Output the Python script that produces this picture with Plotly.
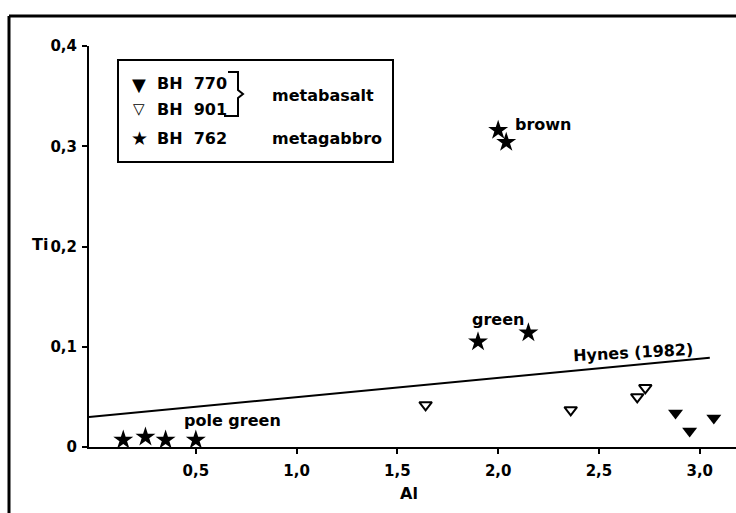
import plotly.graph_objects as go

# ---- data ----
bh770_al = [2.88, 2.95, 3.07]
bh770_ti = [0.034, 0.016, 0.029]
bh901_al = [1.64, 2.36, 2.69, 2.73]
bh901_ti = [0.042, 0.037, 0.050, 0.059]
bh762_al = [0.14, 0.25, 0.35, 0.50, 1.90, 2.15, 2.00, 2.04]
bh762_ti = [0.007, 0.010, 0.007, 0.007, 0.105, 0.114, 0.316, 0.304]
hynes_al = [-0.03, 3.05]
hynes_ti = [0.030, 0.089]
x_ticks = [0.5, 1.0, 1.5, 2.0, 2.5, 3.0]
x_ticklabels = ["0,5", "1,0", "1,5", "2,0", "2,5", "3,0"]
y_ticks = [0, 0.1, 0.2, 0.3, 0.4]
y_ticklabels = ["0", "0,1", "0,2", "0,3", "0,4"]

W, H = 736, 513
L, R, T, B = 89, 0, 46, 66
FONT = "DejaVu Sans"
WEIGHT = "bold"


def px(x):
    return (x - L) / (W - L - R)


def py(y):
    return (H - B - y) / (H - T - B)


fig = go.Figure()
fig.add_trace(go.Scatter(x=hynes_al, y=hynes_ti, mode="lines",
                         line=dict(color="black", width=2), showlegend=False,
                         cliponaxis=False))
fig.add_trace(go.Scatter(x=bh770_al, y=bh770_ti, mode="markers",
                         marker=dict(symbol="triangle-down", size=13, color="black"),
                         showlegend=False, cliponaxis=False))
fig.add_trace(go.Scatter(x=bh901_al, y=bh901_ti, mode="markers",
                         marker=dict(symbol="triangle-down-open", size=11, color="black",
                                     line=dict(width=2, color="black")),
                         showlegend=False, cliponaxis=False))
fig.add_trace(go.Scatter(x=bh762_al, y=bh762_ti, mode="markers",
                         marker=dict(symbol="star", size=15, color="black"),
                         showlegend=False, cliponaxis=False))

ann = []


def text(x, y, s, size=16, xanchor="center", angle=0):
    ann.append(dict(x=px(x), y=py(y), xref="paper", yref="paper", text=s,
                    showarrow=False, xanchor=xanchor, yanchor="middle",
                    textangle=angle,
                    font=dict(family=FONT, size=size, color="black", weight=WEIGHT)))


text(543, 124, "brown")
text(498, 319, "green")
text(633, 352, "Hynes (1982)", angle=-3)
text(232, 420, "pole green")
text(40, 244, "Ti")
text(409, 493, "Al")

# legend
text(139, 84, "▼", size=18)
text(139, 109, "▽", size=15)
text(139, 138, "★", size=19)
text(155, 83, "BH  770", size=16, xanchor="left")
text(155, 109, "BH  901", size=16, xanchor="left")
text(155, 138, "BH  762", size=16, xanchor="left")
text(270, 95, "metabasalt", size=16, xanchor="left")
text(270, 138, "metagabbro", size=16, xanchor="left")

shapes = [
    dict(type="rect", xref="paper", yref="paper", x0=px(118), y0=py(60),
         x1=px(393), y1=py(162), line=dict(color="black", width=2)),
    dict(type="path", xref="paper", yref="paper",
         path=(f"M {px(228)},{py(72)} L {px(238)},{py(72)} L {px(238)},{py(90)} "
               f"L {px(243)},{py(94)} L {px(238)},{py(98)} L {px(238)},{py(116)} "
               f"L {px(224)},{py(116)}"),
         line=dict(color="black", width=2)),
    dict(type="line", xref="paper", yref="paper", x0=px(9), y0=py(16),
         x1=px(9), y1=py(520), line=dict(color="black", width=3)),
    dict(type="line", xref="paper", yref="paper", x0=px(9), y0=py(16),
         x1=px(740), y1=py(16), line=dict(color="black", width=3)),
]

axis_common = dict(showline=True, linecolor="black", linewidth=2, ticks="outside",
                   ticklen=5, tickwidth=1.5, tickcolor="black", showgrid=False,
                   zeroline=False,
                   tickfont=dict(family=FONT, size=15, color="black", weight=WEIGHT))

fig.update_layout(
    width=W, height=H, autosize=False,
    margin=dict(l=L, r=R, t=T, b=B, pad=0),
    paper_bgcolor="white", plot_bgcolor="white",
    xaxis=dict(range=[-0.03, 3.18], tickvals=x_ticks, ticktext=x_ticklabels,
               ticklabelstandoff=4, **axis_common),
    yaxis=dict(range=[0, 0.4], tickvals=y_ticks, ticktext=y_ticklabels,
               ticklabelstandoff=2, **axis_common),
    annotations=ann, shapes=shapes, showlegend=False,
)

fig.write_html("out.html", config={"displayModeBar": False},
               post_script="document.body.style.margin='0';document.body.style.overflow='hidden';")
